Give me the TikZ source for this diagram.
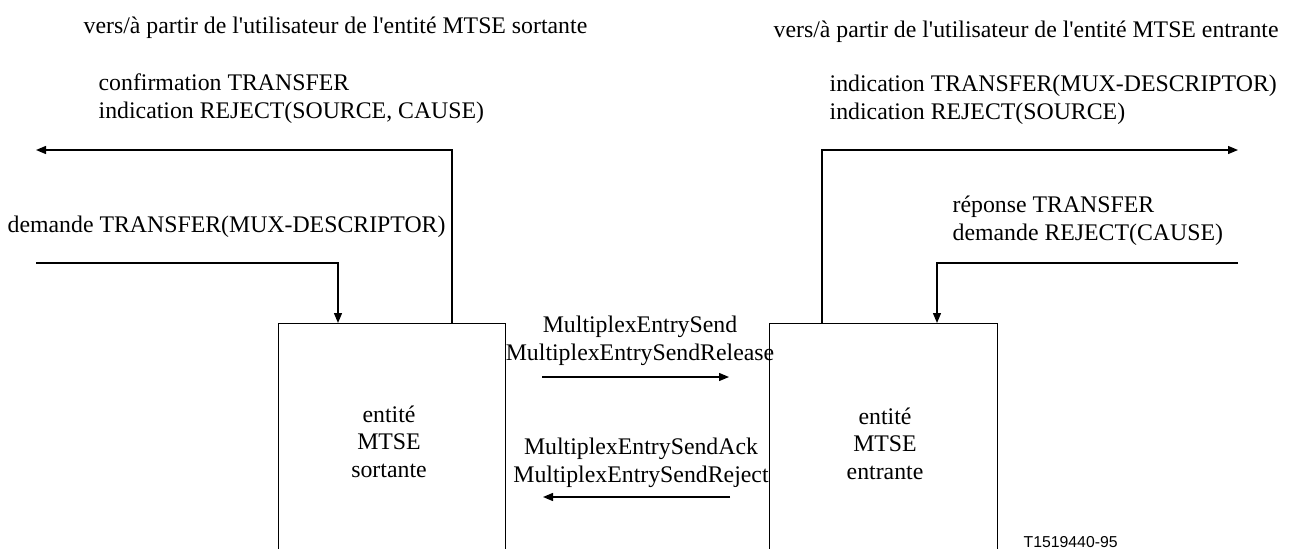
\documentclass[tikz,border=0pt]{standalone}
\usepackage{fontspec}
\setmainfont{Liberation Serif}
\newfontfamily\codefont{Liberation Sans}
\usetikzlibrary{arrows.meta}
\newcommand{\apos}{\textquotesingle}
\begin{document}
\begin{tikzpicture}[x=1pt,y=-1pt, line width=1.3pt,
  arr/.style={-{Triangle[length=10pt,width=8pt]}},
  txt/.style={inner sep=0pt, font=\fontsize{23.8}{27.3}\selectfont},
  lbl/.style={txt, align=left, anchor=base west},
  ctr/.style={txt, align=center, anchor=base},
  ent/.style={draw, minimum height=260pt, anchor=north west, inner sep=0pt}]
\useasboundingbox (0,0) rectangle (1291,549);
\clip (0,0) rectangle (1291,549);
% entity boxes (open at the bottom edge)
\node[ent, minimum width=227pt] (lbox) at (278,323) {};
\node[ent, minimum width=228pt] (rbox) at (769,323) {};
% texts (multi-line nodes: base = baseline of the last line)
\node[lbl] (tl) at (83,33) {vers/à partir de l\apos utilisateur de l\apos entité MTSE sortante};
\node[lbl] (tr) at (773,37) {vers/à partir de l\apos utilisateur de l\apos entité MTSE entrante};
\node[lbl] (lo) at (98,118) {confirmation TRANSFER\\indication REJECT(SOURCE, CAUSE)};
\node[lbl] (ro) at (829,119) {indication TRANSFER(MUX-DESCRIPTOR)\\indication REJECT(SOURCE)};
\node[lbl] (li) at (7,232) {demande TRANSFER(MUX-DESCRIPTOR)};
\node[lbl] (ri) at (952,240) {réponse TRANSFER\\demande REJECT(CAUSE)};
\node[ctr] (fw) at (640,360) {MultiplexEntrySend\\MultiplexEntrySendRelease};
\node[ctr] (bw) at (641,482) {MultiplexEntrySendAck\\MultiplexEntrySendReject};
\node[ctr] (le) at (389,477) {entité\\MTSE\\sortante};
\node[ctr] (re) at (885,479) {entité\\MTSE\\entrante};
\node[inner sep=0pt, anchor=base west, font=\codefont\fontsize{15.8}{18}\selectfont] (fig) at (1023,547) {T1519440-95};
% coordinates
\coordinate (loutEnd) at (36,150);
\coordinate (linStart) at (36,263);
\coordinate (routEnd) at (1238,150);
\coordinate (rinStart) at (1238,263);
\coordinate (lob) at (452,150);
\coordinate (lib) at (338,263);
\coordinate (rob) at (822,150);
\coordinate (rib) at (937,263);
\coordinate (fwS) at (542,377);
\coordinate (fwE) at (729,377);
\coordinate (bwS) at (730,497);
\coordinate (bwE) at (543,497);
% connectors
\draw[arr] (lob |- lbox.north) -- (lob) -- (loutEnd);
\draw[arr] (linStart) -- (lib) -- (lib |- lbox.north);
\draw[arr] (rob |- rbox.north) -- (rob) -- (routEnd);
\draw[arr] (rinStart) -- (rib) -- (rib |- rbox.north);
\draw[arr] (fwS) -- (fwE);
\draw[arr] (bwS) -- (bwE);
\end{tikzpicture}
\end{document}
